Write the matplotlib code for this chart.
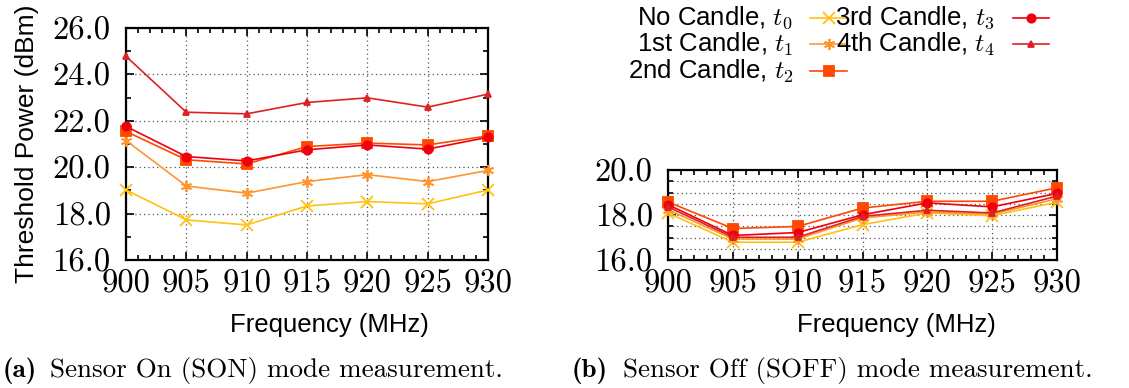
import matplotlib

matplotlib.use("Agg")
import matplotlib.pyplot as plt
from matplotlib.lines import Line2D
from matplotlib.ticker import MultipleLocator, FormatStrFormatter

plt.rcParams["mathtext.fontset"] = "cm"

freq = [900, 905, 910, 915, 920, 925, 930]
labels = ["No Candle, $t_0$", "1st Candle, $t_1$", "2nd Candle, $t_2$",
          "3rd Candle, $t_3$", "4th Candle, $t_4$"]

# Sensor On (SON)
son_t0 = [19.02, 17.73, 17.51, 18.33, 18.52, 18.42, 19.02]
son_t1 = [21.15, 19.19, 18.88, 19.38, 19.68, 19.38, 19.86]
son_t2 = [21.54, 20.32, 20.14, 20.89, 21.04, 20.96, 21.35]
son_t3 = [21.76, 20.46, 20.27, 20.75, 20.96, 20.78, 21.29]
son_t4 = [24.78, 22.37, 22.30, 22.79, 22.99, 22.59, 23.15]

# Sensor Off (SOFF)
soff_t0 = [18.09, 16.79, 16.79, 17.57, 18.09, 17.97, 18.57]
soff_t1 = [18.24, 16.93, 16.93, 17.87, 18.13, 18.04, 18.72]
soff_t2 = [18.58, 17.40, 17.49, 18.31, 18.61, 18.61, 19.21]
soff_t3 = [18.46, 17.09, 17.22, 18.01, 18.54, 18.36, 18.96]
soff_t4 = [18.36, 17.01, 17.01, 17.94, 18.21, 18.09, 18.84]

colors = ["#ffc20e", "#ff9530", "#ff4800", "#ee0010", "#dd2222"]
markers = ["x", (6, 2, 0), "s", "o", "^"]
msizes = [8, 8, 7, 6, 5]

W, H = 1129, 388
fig = plt.figure(figsize=(W / 100, H / 100), dpi=100)

LABEL_FONT = dict(family="Liberation Sans", size=18.5)


def px_axes(x0, y0, x1, y1):
    return fig.add_axes([x0 / W, 1 - y1 / H, (x1 - x0) / W, (y1 - y0) / H])


def style(ax, ymin, ymax, yminor):
    ax.set_xlim(900, 930)
    ax.set_ylim(ymin, ymax)
    ax.xaxis.set_major_locator(MultipleLocator(5))
    ax.xaxis.set_minor_locator(MultipleLocator(1))
    ax.yaxis.set_major_locator(MultipleLocator(2))
    ax.yaxis.set_minor_locator(MultipleLocator(yminor))
    ax.yaxis.set_major_formatter(FormatStrFormatter("%.1f"))
    ax.tick_params(which="both", direction="in", top=True, right=True, width=1.2,
                   labelsize=23.5, labelfontfamily="cmr10")
    ax.tick_params(which="major", length=6)
    ax.tick_params(which="minor", length=3.5)
    ax.tick_params(axis="y", pad=11)
    ax.tick_params(axis="x", pad=7)
    for sp in ax.spines.values():
        sp.set_linewidth(1.6)
    ax.grid(which="major", color="#555555", linestyle=(0, (1, 2.5)), linewidth=0.9)


def draw(ax, series):
    for vals, c, m, ms in zip(series, colors, markers, msizes):
        ax.plot(freq, vals, color=c, marker=m, markersize=ms, linewidth=1.2,
                markeredgewidth=1.3, clip_on=False, zorder=3)


ax1 = px_axes(126, 28, 488, 260)
style(ax1, 16, 26, 1)
draw(ax1, [son_t0, son_t1, son_t2, son_t3, son_t4])
ax1.set_ylabel("Threshold Power (dBm)", family="Liberation Sans", size=19, labelpad=10)

ax2 = px_axes(668, 170, 1057, 260)
style(ax2, 16, 20, 0.5)
ax2.grid(which="minor", axis="y", color="#555555", linestyle=(0, (1, 2.5)), linewidth=0.9)
draw(ax2, [soff_t0, soff_t1, soff_t2, soff_t3, soff_t4])

fig.text(329 / W, 1 - 325 / H, "Frequency (MHz)", ha="center", va="center", **LABEL_FONT)
fig.text(896 / W, 1 - 325 / H, "Frequency (MHz)", ha="center", va="center", **LABEL_FONT)

# legend (gnuplot style: right-aligned text, sample to the right)
leg_pos = [(793, 810, 847, 18), (793, 810, 847, 44), (793, 810, 847, 71),
           (995, 1013, 1049, 18), (995, 1013, 1049, 44)]
for lab, c, m, ms, (xt, x0, x1, y) in zip(labels, colors, markers, msizes, leg_pos):
    fig.text(xt / W, 1 - y / H, lab, ha="right", va="center", **LABEL_FONT)
    yy = 1 - y / H
    fig.add_artist(Line2D([x0 / W, x1 / W], [yy, yy], color=c, linewidth=1.2,
                          transform=fig.transFigure))
    fig.add_artist(Line2D([(x0 + x1) / 2 / W], [yy], color=c, marker=m, markersize=ms,
                          markeredgewidth=1.3, transform=fig.transFigure))

# sub-captions
cap_y = 1 - 371 / H
fig.text(3 / W, cap_y, "(a)", ha="left", va="center", family="cmb10", size=19.5)
fig.text(50 / W, cap_y, "Sensor On (SON) mode measurement.", ha="left", va="center",
         family="cmr10", size=19.5)
fig.text(572 / W, cap_y, "(b)", ha="left", va="center", family="cmb10", size=19.5)
fig.text(623 / W, cap_y, "Sensor Off (SOFF) mode measurement.", ha="left", va="center",
         family="cmr10", size=19.5)

fig.savefig("out.png", dpi=100)
